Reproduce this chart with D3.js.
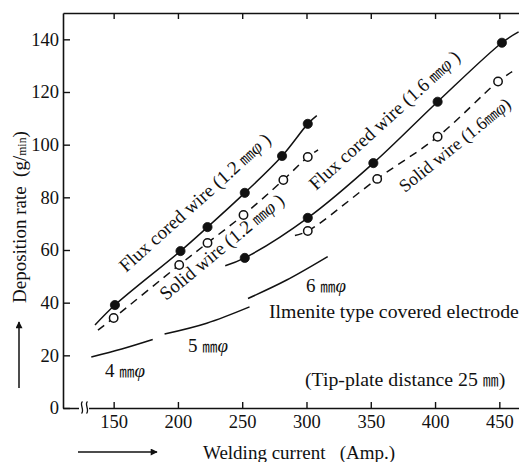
<!DOCTYPE html>
<html><head><meta charset="utf-8">
<script src="https://cdn.jsdelivr.net/npm/d3@7"></script>
<style>
body{margin:0;background:#fff}
svg{display:block}
text{font-family:"Liberation Serif","Times New Roman",serif;fill:#111}
</style>
</head><body>
<svg id="c" width="519" height="462"></svg>
<script>
// ---- data ----
const xTicks = [150, 200, 250, 300, 350, 400, 450];
const yTicks = [0, 20, 40, 60, 80, 100, 120, 140];

const flux12Current = [151, 202, 223, 252, 281, 301];
const flux12Rate    = [39.1, 59.6, 68.7, 81.7, 95.7, 107.9];
const flux12Ends    = [[135.5, 31.5], [308, 111]];

const solid12Current = [150, 201, 223, 251, 282, 301];
const solid12Rate    = [34.2, 54.3, 62.7, 73.3, 86.6, 95.3];
const solid12Ends    = [[137.8, 29.6], [309, 98]];

const flux16Current = [252, 301, 352, 402, 452];
const flux16Rate    = [57, 72.2, 93, 116.3, 138.7];
const flux16Ends    = [[236.8, 54], [465, 142.8]];

const solid16Current = [301, 355, 402, 449];
const solid16Rate    = [67.2, 87, 103, 124];
const solid16Ends    = [[291, 65.5], [460, 127.7]];

const electrode4Current = [132.6, 156.3, 180.4];
const electrode4Rate    = [19.4, 22.4, 26];
const electrode5Current = [189.6, 222.4, 255.7];
const electrode5Rate    = [28.1, 32.2, 38.4];
const electrode6Current = [254.5, 284.6, 316.5];
const electrode6Rate    = [41.6, 48.6, 57.5];

// ---- layout ----
const svg = d3.select("#c");
const L = 63, R = 519, T = 13, B = 408;
const x = d3.scaleLinear().domain([110.6, 465.3]).range([L, R]);
const y = d3.scaleLinear().domain([0, 150]).range([B, T]);

const zip = (a, b) => a.map((v, i) => [v, b[i]]);

// axes
const gx = svg.append("g").attr("transform", `translate(0,${B})`)
  .call(d3.axisBottom(x).tickValues(xTicks).tickSizeInner(-6).tickSizeOuter(0).tickPadding(7).tickFormat(d3.format("d")));
const gy = svg.append("g").attr("transform", `translate(${L},0)`)
  .call(d3.axisLeft(y).tickValues(yTicks).tickSizeInner(-7).tickSizeOuter(0).tickPadding(4).tickFormat(d3.format("d")));
const gt = svg.append("g").attr("transform", `translate(0,${T})`)
  .call(d3.axisTop(x).tickValues(xTicks).tickSizeInner(-6).tickSizeOuter(0).tickFormat(""));
[gx, gy, gt].forEach(g => {
  g.selectAll("path.domain").attr("stroke", "#111").attr("stroke-width", 1.6);
  g.selectAll(".tick line").attr("stroke", "#111").attr("stroke-width", 1.4);
  g.selectAll(".tick text").style("font-family", '"Liberation Serif",serif').style("font-size", "18.5px").attr("fill", "#111");
});

// axis break
svg.append("rect").attr("x", 79).attr("y", 403).attr("width", 10).attr("height", 10).attr("fill", "#fff");
[81.5, 86.5].forEach(bx => {
  svg.append("path")
    .attr("d", `M${bx+1},401.5 C${bx-2.5},404 ${bx+3.5},410 ${bx},413.5`)
    .attr("fill", "none").attr("stroke", "#111").attr("stroke-width", 1.3);
});

// curves
const line = d3.line().x(d => x(d[0])).y(d => y(d[1])).curve(d3.curveCatmullRom.alpha(0.5));
function series(cur, rate, ends, dashed, filled) {
  const pts = [ends[0], ...zip(cur, rate), ends[1]];
  svg.append("path").attr("d", line(pts)).attr("fill", "none").attr("stroke", "#111")
    .attr("stroke-width", 1.5).attr("stroke-dasharray", dashed ? "8,6" : null);
  svg.append("g").selectAll("circle").data(zip(cur, rate)).join("circle")
    .attr("cx", d => x(d[0])).attr("cy", d => y(d[1])).attr("r", filled ? 4.6 : 4.2)
    .attr("fill", filled ? "#111" : "#fff").attr("stroke", "#111").attr("stroke-width", filled ? 0.8 : 1.5);
}
series(solid12Current, solid12Rate, solid12Ends, true, false);
series(flux12Current, flux12Rate, flux12Ends, false, true);
series(solid16Current, solid16Rate, solid16Ends, true, false);
series(flux16Current, flux16Rate, flux16Ends, false, true);

const eline = d3.line().x(d => x(d[0])).y(d => y(d[1])).curve(d3.curveNatural);
[[electrode4Current, electrode4Rate], [electrode5Current, electrode5Rate], [electrode6Current, electrode6Rate]]
  .forEach(([c, r]) => svg.append("path").attr("d", eline(zip(c, r))).attr("fill", "none")
    .attr("stroke", "#111").attr("stroke-width", 1.5));

// text helper
function label(parts, px, py, angle, size) {
  const t = svg.append("text").attr("transform", `translate(${px},${py}) rotate(${angle})`)
    .style("font-size", size + "px");
  parts.forEach(p => {
    const s = t.append("tspan").text(p.t);
    if (p.mm) s.style("font-family", '"Noto Sans CJK JP",sans-serif').style("font-size", (size * 0.8) + "px");
    if (p.it) s.style("font-style", "italic");
    if (p.small) s.style("font-size", (size * 0.62) + "px");
  });
  return t;
}
label([{t:"Flux cored wire (1.2 "},{t:"㎜",mm:true},{t:"φ",it:true},{t:" )"}], 126, 273, -42, 19);
label([{t:"Solid wire (1.2 "},{t:"㎜",mm:true},{t:"φ",it:true},{t:" )"}], 166, 301, -39.5, 19);
label([{t:"Flux cored wire (1.6 "},{t:"㎜",mm:true},{t:"φ",it:true},{t:" )"}], 316, 191, -42.3, 19);
label([{t:"Solid wire (1.6"},{t:"㎜",mm:true},{t:"φ",it:true},{t:")"}], 405, 193, -39, 18);

label([{t:"6 "},{t:"㎜",mm:true},{t:"φ",it:true}], 306, 292, 0, 19);
label([{t:"5 "},{t:"㎜",mm:true},{t:"φ",it:true}], 188, 352, 0, 19);
label([{t:"4 "},{t:"㎜",mm:true},{t:"φ",it:true}], 105, 377, 0, 19);
label([{t:"Ilmenite type covered electrode"}], 269, 318, 0, 19.8);
label([{t:"(Tip-plate distance 25 "},{t:"㎜",mm:true},{t:")"}], 305, 386, 0, 19.8);

// axis titles
label([{t:"Deposition rate\u2002(g/"},{t:"min",small:true},{t:")"}], 26, 303, -90, 19);
label([{t:"Welding current\u2002 (Amp.)"}], 203, 459, 0, 19);

// arrows
svg.append("defs").append("marker").attr("id", "ah").attr("viewBox", "0 0 10 10")
  .attr("refX", 9).attr("refY", 5).attr("markerWidth", 9).attr("markerHeight", 7)
  .attr("markerUnits", "userSpaceOnUse").attr("orient", "auto")
  .append("path").attr("d", "M0,0 L10,5 L0,10 Z").attr("fill", "#111");
svg.append("line").attr("x1", 19).attr("y1", 388).attr("x2", 19).attr("y2", 322)
  .attr("stroke", "#111").attr("stroke-width", 1.5).attr("marker-end", "url(#ah)");
svg.append("line").attr("x1", 78).attr("y1", 452).attr("x2", 157).attr("y2", 452)
  .attr("stroke", "#111").attr("stroke-width", 1.5).attr("marker-end", "url(#ah)");
</script>
</body></html>
